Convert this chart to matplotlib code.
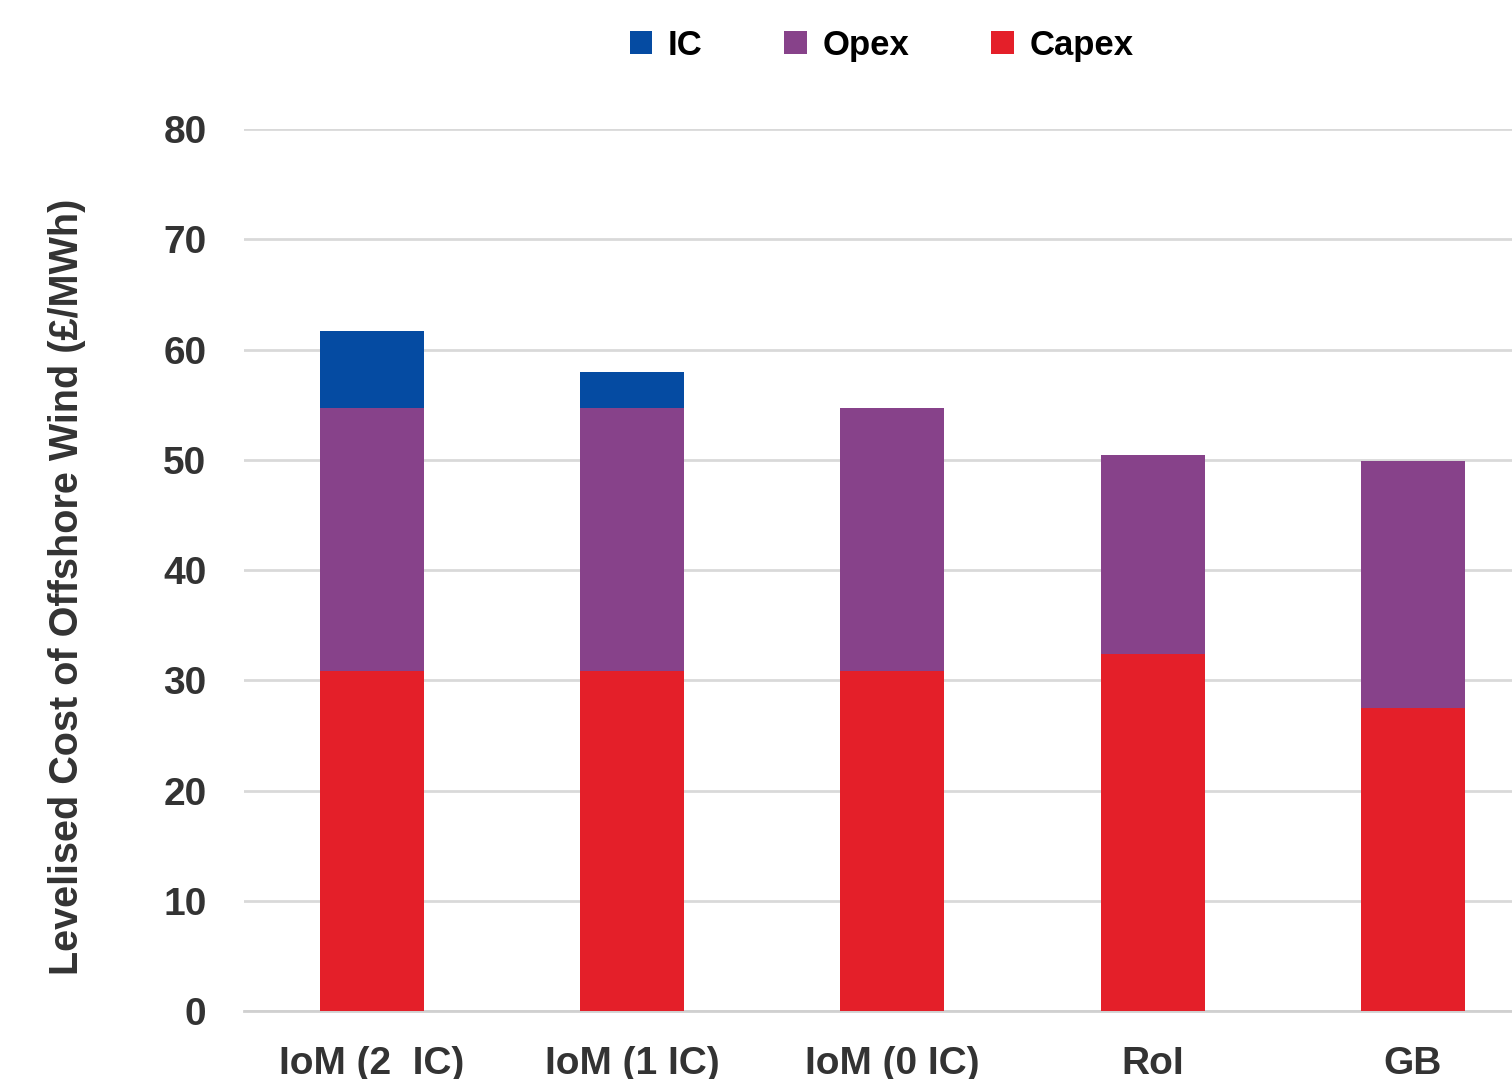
import matplotlib.pyplot as plt
import numpy as np

categories = ["IoM (2  IC)", "IoM (1 IC)", "IoM (0 IC)", "RoI", "GB"]
capex = [30.8, 30.8, 30.8, 32.4, 27.5]
opex = [23.9, 23.9, 23.9, 18.0, 22.4]
ic = [7.0, 3.3, 0.0, 0.0, 0.0]

plt.rcParams["font.family"] = ["Liberation Sans", "DejaVu Sans"]
plt.rcParams["font.weight"] = "bold"

fig = plt.figure(figsize=(15.12, 10.79), dpi=100)
ax = fig.add_axes([0.1614, 0.063, 0.8386, 0.8174])

x = np.arange(len(categories))
w = 0.4
capex = np.array(capex)
opex = np.array(opex)
ic = np.array(ic)

b_cap = ax.bar(x, capex, w, color="#E41F29", label="Capex", zorder=3)
b_op = ax.bar(x, opex, w, bottom=capex, color="#87428A", label="Opex", zorder=3)
b_ic = ax.bar(x, ic, w, bottom=capex + opex, color="#054BA2", label="IC", zorder=3)

ax.set_xlim(-0.49, 4.38)
ax.set_ylim(0, 80)
ax.set_yticks(range(0, 81, 10))
ax.set_xticks(x)
ax.set_xticklabels(categories)
ax.yaxis.grid(True, color="#d9d9d9", linewidth=2, zorder=0)
ax.set_axisbelow(True)
for s in ["top", "right", "left"]:
    ax.spines[s].set_visible(False)
ax.spines["bottom"].set_color("#d0d0d0")
ax.spines["bottom"].set_linewidth(2)
ax.tick_params(axis="both", length=0, labelsize=28, labelcolor="#333333")
ax.tick_params(axis="y", pad=27)
ax.tick_params(axis="x", pad=25)

ax.set_ylabel("Levelised Cost of Offshore Wind (£/MWh)", fontsize=28.5,
              fontweight="bold", color="#333333")
ax.yaxis.set_label_coords(-0.125, 0.481)

fig.legend(handles=[b_ic, b_op, b_cap], labels=["IC", "Opex", "Capex"],
           loc="center", bbox_to_anchor=(0.583, 0.958), ncol=3, frameon=False,
           fontsize=25, handlelength=0.65, handleheight=0.65, handletextpad=0.45,
           columnspacing=2.35)

fig.savefig("out.png", dpi=100)
